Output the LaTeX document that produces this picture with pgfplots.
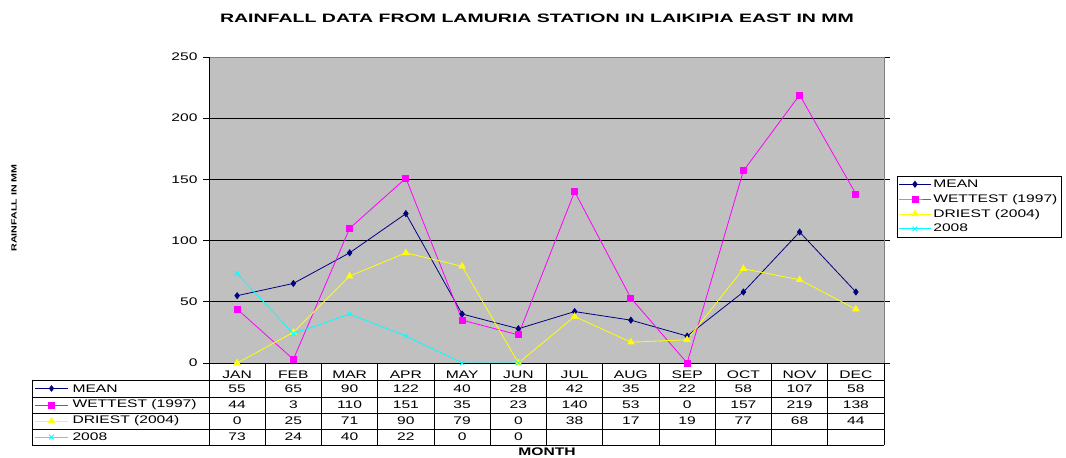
\documentclass[border=0pt]{standalone}
\usepackage{fontspec}
\setmainfont{Liberation Sans}[FakeStretch=1.42]
\newfontfamily\titlefont{Liberation Sans}[FakeStretch=1.6]
\usepackage{pgfplots}
\pgfplotsset{compat=1.18}

\definecolor{meanc}{RGB}{0,0,128}
\definecolor{wetc}{RGB}{255,0,255}
\definecolor{dryc}{RGB}{255,255,0}
\definecolor{yrc}{RGB}{0,255,255}
\definecolor{plotbg}{RGB}{192,192,192}

\newcommand{\tf}{\fontsize{11bp}{13bp}\selectfont}

\begin{document}
\begin{tikzpicture}[x=1bp,y=1bp]
\useasboundingbox (0,0) rectangle (1066,458);

\begin{axis}[
    at={(209bp,95bp)}, anchor=south west,
    width=675bp, height=306bp, scale only axis,
    xmin=0.5, xmax=12.5, ymin=0, ymax=250,
    ytick={0,50,...,250},
    xtick={1,...,12},
    xticklabels={JAN,FEB,MAR,APR,MAY,JUN,JUL,AUG,SEP,OCT,NOV,DEC},
    x tick style={draw=none},
    xticklabel style={anchor=center, yshift=-6bp},
    y tick style={black, line width=0.8pt},
    tick align=outside, major tick length=6bp,
    yticklabel style={xshift=-2bp},
    ymajorgrids, grid style={black, line width=0.8pt},
    axis background/.style={fill=plotbg},
    axis line style={draw=none},
    tick label style={font=\tf},
    /pgf/number format/assume math mode=true,
    clip=false,
    legend style={at={(1.019,0.611)}, anchor=north west, font=\tf,
                  draw=black, fill=white, inner sep=1.5bp, row sep=1.5bp},
    legend cell align=left,
    legend image code/.code={\draw[mark repeat=2,mark phase=2]
        plot coordinates {(0bp,0bp) (16bp,0bp) (32bp,0bp)};},
    every axis plot/.append style={line width=0.8pt},
]

\addplot[meanc, mark=diamond*, mark size=3bp] coordinates {
    (1,55) (2,65) (3,90) (4,122) (5,40) (6,28)
    (7,42) (8,35) (9,22) (10,58) (11,107) (12,58)
  };
\addlegendentry{MEAN}

\addplot[wetc, mark=square*, mark size=3bp] coordinates {
    (1,44) (2,3) (3,110) (4,151) (5,35) (6,23)
    (7,140) (8,53) (9,0) (10,157) (11,219) (12,138)
  };
\addlegendentry{WETTEST (1997)}

\addplot[dryc, mark=triangle*, mark size=3.6bp] coordinates {
    (1,0) (2,25) (3,71) (4,90) (5,79) (6,0)
    (7,38) (8,17) (9,19) (10,77) (11,68) (12,44)
  };
\addlegendentry{DRIEST (2004)}

\addplot[yrc, mark=x, mark size=3.2bp] coordinates {
    (1,73) (2,24) (3,40) (4,22) (5,0) (6,0)
  };
\addlegendentry{2008}

% plot frame
\draw[gray, line width=0.8pt] (rel axis cs:0,1) -- (rel axis cs:1,1) -- (rel axis cs:1,0);
\draw[black, line width=0.8pt] (rel axis cs:0,1) -- (rel axis cs:0,0) -- (rel axis cs:1,0);
\end{axis}

% title and axis labels
\node[font=\titlefont\bfseries\fontsize{12.2bp}{14bp}\selectfont] at (537,440)
  {RAINFALL DATA FROM LAMURIA STATION IN LAIKIPIA EAST IN MM};
\node[font=\bfseries\fontsize{11bp}{13bp}\selectfont] at (547,6) {MONTH};
\node[font=\bfseries\fontsize{7.5bp}{9bp}\selectfont, rotate=90] at (14,250)
  {RAINFALL IN MM};

% data table grid
\begin{scope}[line width=0.8pt]
\foreach \yy in {78,61,45,29,13} \draw (32,\yy) -- (884,\yy);
\draw (32,78) -- (32,13);
\foreach \k in {0,...,12} \draw (209+56.25*\k,95) -- (209+56.25*\k,13);
\end{scope}

% series keys in the table
\draw[meanc, line width=0.8pt] (35,69.5) -- (68,69.5);
\path[meanc] plot[mark=diamond*, mark size=3bp] coordinates {(51.5,69.5)};
\draw[wetc, line width=0.8pt] (35,53) -- (68,53);
\path[wetc] plot[mark=square*, mark size=3bp] coordinates {(51.5,53)};
\draw[dryc, line width=0.8pt] (35,37) -- (68,37);
\path[dryc] plot[mark=triangle*, mark size=3.6bp] coordinates {(51.5,37)};
\draw[yrc, line width=0.8pt] (35,21) -- (68,21);
\path[yrc, line width=0.8pt] plot[mark=x, mark size=3.2bp] coordinates {(51.5,21)};

\begin{scope}[every node/.style={font=\tf, anchor=west}]
\node at (69,69.5) {MEAN};
\node at (69,53) {WETTEST (1997)};
\node at (69,37) {DRIEST (2004)};
\node at (69,21) {2008};
\end{scope}

% table values
\begin{scope}[every node/.style={font=\tf}]
\foreach \v [count=\i] in {55,65,90,122,40,28,42,35,22,58,107,58}
  \node at (180.875+56.25*\i,69.5) {\v};
\foreach \v [count=\i] in {44,3,110,151,35,23,140,53,0,157,219,138}
  \node at (180.875+56.25*\i,53) {\v};
\foreach \v [count=\i] in {0,25,71,90,79,0,38,17,19,77,68,44}
  \node at (180.875+56.25*\i,37) {\v};
\foreach \v [count=\i] in {73,24,40,22,0,0}
  \node at (180.875+56.25*\i,21) {\v};
\end{scope}
\end{tikzpicture}
\end{document}
